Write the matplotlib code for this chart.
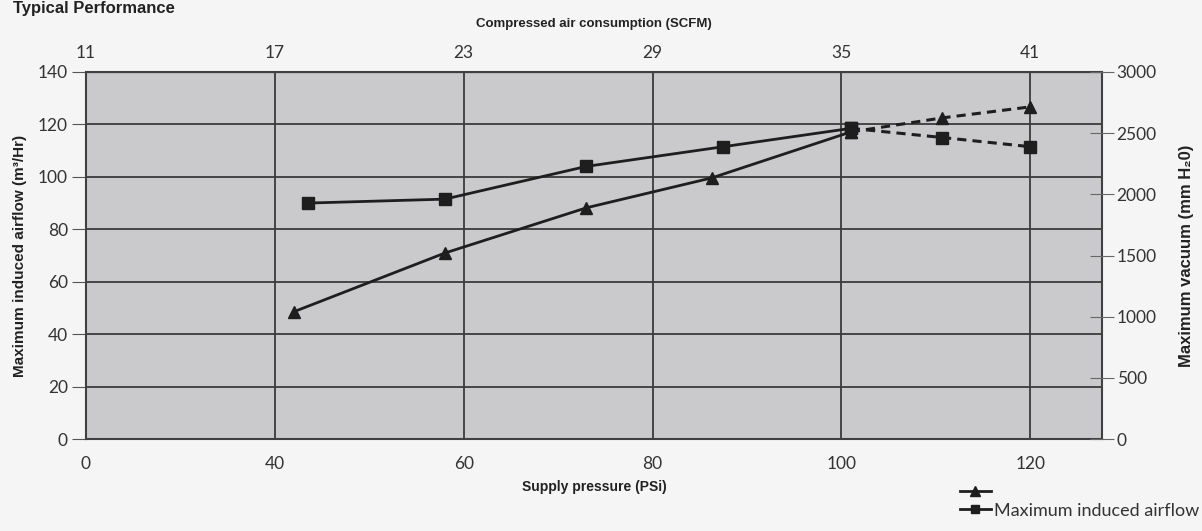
import matplotlib
matplotlib.use("Agg")
import matplotlib.pyplot as plt
from matplotlib.lines import Line2D

# ---- data ----
pressure_ticks = [20, 40, 60, 80, 100, 120]          # axis positions (broken axis: first tick labelled 0)
pressure_labels = ["0", "40", "60", "80", "100", "120"]
scfm_labels = ["11", "17", "23", "29", "35", "41"]

# Maximum vacuum (mm H2O) - triangles, right axis
vac_x = [42, 58, 73, 86.3, 101, 110.7, 120]
vac_y = [1040, 1520, 1890, 2135, 2510, 2625, 2715]

# Maximum induced airflow (m3/Hr) - squares, left axis
flow_x = [43.5, 58, 73, 87.5, 101, 110.7, 120]
flow_y = [90, 91.5, 104, 111.5, 118.5, 115, 111.5]

left_ticks = [0, 20, 40, 60, 80, 100, 120, 140]
right_ticks = [0, 500, 1000, 1500, 2000, 2500, 3000]

n_solid = 5  # first points joined with solid lines; remainder dashed

# ---- style ----
tick_font = "Lato"
bold_font = "Liberation Sans"
line_col = "#1e1e1e"
grid_col = "#3a3a3a"
text_col = "#333333"

fig = plt.figure(figsize=(12.02, 5.31), dpi=100)
fig.patch.set_facecolor("#f6f5f6")
ax = fig.add_axes([86 / 1202, 1 - 439 / 531, (1102 - 86) / 1202, (439 - 72) / 531])
ax.set_facecolor("#cacacc")
ax.set_xlim(20, 127.6)
ax.set_ylim(0, 140)

ax.set_xticks(pressure_ticks)
ax.set_xticklabels(pressure_labels)
ax.set_yticks(left_ticks)
ax.grid(True, color=grid_col, linewidth=1.3)
ax.set_axisbelow(True)
ax.tick_params(axis="x", length=0, pad=12, labelsize=12.5, labelcolor=text_col)
ax.tick_params(axis="y", length=10, width=0.8, color="#555555", pad=3, labelsize=12.5, labelcolor=text_col)
for lab in ax.get_xticklabels() + ax.get_yticklabels():
    lab.set_fontfamily(tick_font)
for sp in ax.spines.values():
    sp.set_color("#404040")
    sp.set_linewidth(1.5)

ax.set_xlabel("Supply pressure (PSi)", fontfamily=bold_font, fontweight="bold",
              fontsize=10, color="#222222", labelpad=6)
ax.set_ylabel("Maximum induced airflow (m³/Hr)", fontfamily=bold_font, fontweight="bold",
              fontsize=11, color="#222222", labelpad=8)

# top axis
top = ax.secondary_xaxis("top")
top.set_xticks(pressure_ticks)
top.set_xticklabels(scfm_labels)
top.tick_params(length=0, pad=8, labelsize=12.5, labelcolor=text_col)
for lab in top.get_xticklabels():
    lab.set_fontfamily(tick_font)
top.set_xlabel("Compressed air consumption (SCFM)", fontfamily=bold_font, fontweight="bold",
               fontsize=9.5, color="#222222", labelpad=13)

# right axis
ax2 = ax.twinx()
ax2.set_ylim(0, 3000)
ax2.set_yticks(right_ticks)
ax2.tick_params(axis="y", direction="inout", length=17, width=0.8, color="#666666",
                pad=2, labelsize=12.5, labelcolor=text_col)
for lab in ax2.get_yticklabels():
    lab.set_fontfamily(tick_font)
for sp in ax2.spines.values():
    sp.set_visible(False)
ax2.set_ylabel("Maximum vacuum (mm H₂0)", fontfamily=bold_font, fontweight="bold",
               fontsize=12, color="#222222", labelpad=16)

# series
k = n_solid
ax.plot(flow_x[:k], flow_y[:k], color=line_col, lw=2, marker="s", ms=8, zorder=3)
ax.plot(flow_x[k - 1:], flow_y[k - 1:], color=line_col, lw=2.2, ls=(0, (3, 2)),
        marker="s", ms=8, zorder=3)
ax2.plot(vac_x[:k], vac_y[:k], color=line_col, lw=2, marker="^", ms=9, zorder=3)
ax2.plot(vac_x[k - 1:], vac_y[k - 1:], color=line_col, lw=2.2, ls=(0, (3, 2)),
         marker="^", ms=9, zorder=3)

# title
fig.text(13 / 1202, 1 - 8 / 531, "Typical Performance", fontfamily=bold_font,
         fontweight="bold", fontsize=12, color="#222222", va="center", ha="left")

# legend
handles = [Line2D([], [], color=line_col, lw=2, marker="^", ms=7),
           Line2D([], [], color=line_col, lw=2, marker="s", ms=6)]
leg = fig.legend(handles, ["", "Maximum induced airflow"], loc="upper left",
                 bbox_to_anchor=(960 / 1202, 1 - 484 / 531), frameon=False,
                 handlelength=1.7, handletextpad=0.2, labelspacing=0.15,
                 borderpad=0, borderaxespad=0,
                 prop={"family": tick_font, "size": 13})
for t in leg.get_texts():
    t.set_color(text_col)

fig.savefig("out.png", dpi=100, facecolor=fig.get_facecolor())
